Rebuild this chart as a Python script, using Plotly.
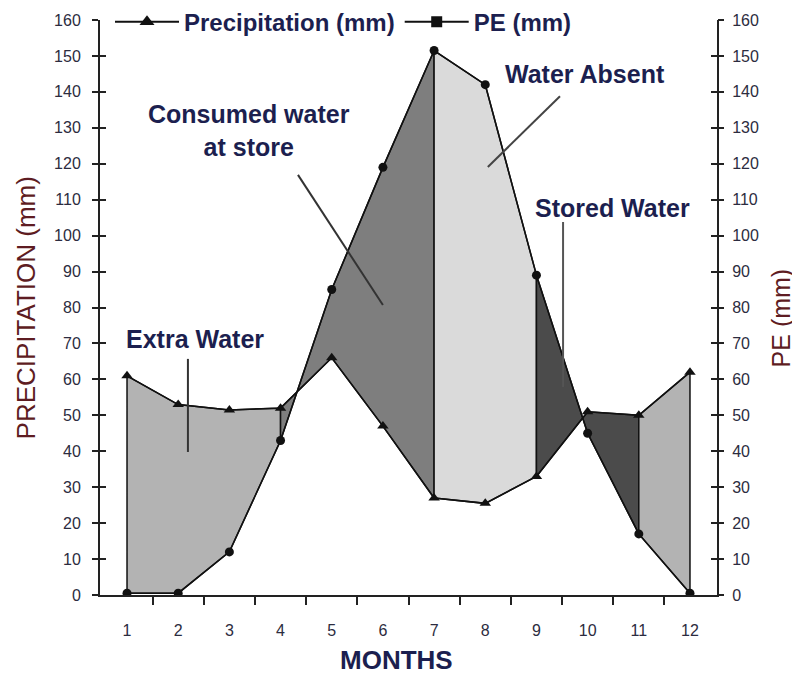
import plotly.graph_objects as go

months = [1, 2, 3, 4, 5, 6, 7, 8, 9, 10, 11, 12]
precip = [61, 53, 51.5, 52, 66, 47, 27, 25.5, 33, 51, 50, 62]
pe = [0.5, 0.5, 12, 43, 85, 119, 151.5, 142, 89, 45, 17, 0.5]
tick_labels = [str(m) for m in months]

# shaded segments: (start month, end month, fill colour)
segments = [(1, 4, "#b3b3b3"), (4, 7, "#7e7e7e"), (7, 9, "#dadada"),
            (9, 11, "#4b4b4b"), (11, 12, "#b3b3b3")]

TXT = "#1c1f4f"
TITLE_RED = "#5e1c22"
TICK = "#2c2c40"
FONT = "Liberation Sans, Arial, sans-serif"

fig = go.Figure()

for a, b, col in segments:
    i0, i1 = months.index(a), months.index(b)
    xs = months[i0:i1 + 1] + months[i0:i1 + 1][::-1]
    ys = precip[i0:i1 + 1] + pe[i0:i1 + 1][::-1]
    fig.add_trace(go.Scatter(x=xs + [xs[0]], y=ys + [ys[0]], fill="toself",
                             fillcolor=col, mode="lines",
                             line=dict(color="#111111", width=1.5),
                             showlegend=False, hoverinfo="skip"))

fig.add_trace(go.Scatter(x=months, y=precip, mode="lines+markers",
                         line=dict(color="#111111", width=1.5),
                         marker=dict(symbol="triangle-up", size=10, color="#111111"),
                         showlegend=False))
fig.add_trace(go.Scatter(x=months, y=pe, mode="lines+markers",
                         line=dict(color="#111111", width=1.5),
                         marker=dict(symbol="circle", size=9, color="#111111"),
                         showlegend=False))

# legend entries
fig.add_trace(go.Scatter(x=[None], y=[None], mode="lines+markers",
                         name="<b>Precipitation (mm)</b>",
                         line=dict(color="#111111", width=2),
                         marker=dict(symbol="triangle-up", size=13, color="#111111")))
fig.add_trace(go.Scatter(x=[None], y=[None], mode="lines+markers",
                         name="<b>PE (mm)</b>",
                         line=dict(color="#111111", width=2),
                         marker=dict(symbol="square", size=11, color="#111111")))

# helper traces so overlay axes are drawn
for ax in ["y2", "y3", "y4"]:
    fig.add_trace(go.Scatter(x=[None], y=[None], yaxis=ax, showlegend=False))

yticks = list(range(0, 161, 10))

common_y = dict(range=[0, 160], tickmode="array", tickvals=yticks,
                showgrid=False, zeroline=False, tickwidth=2, tickcolor="#222222",
                ticklen=6)

fig.update_layout(
    width=800, height=675,
    margin=dict(l=92, r=91, t=12, b=88, autoexpand=False),
    plot_bgcolor="white", paper_bgcolor="white",
    font=dict(family=FONT, color=TXT),
    xaxis=dict(range=[0.472, 12.528], tickmode="array", tickvals=months,
               ticktext=tick_labels, ticks="", showgrid=False, zeroline=False,
               showline=True, linecolor="#222222", linewidth=2,
               ticklabelstandoff=20,
               tickfont=dict(size=16, color=TICK),
               minor=dict(tickmode="array", tickvals=[m + 0.5 for m in months[:-1]],
                          ticks="outside", ticklen=8, tickwidth=2, tickcolor="#222222",
                          showgrid=False)),
    yaxis=dict(**common_y, ticks="outside", showline=True,
               linecolor="#222222", linewidth=2, ticklabelstandoff=8,
               tickfont=dict(size=16, color=TICK)),
    yaxis3=dict(**common_y, ticks="inside", overlaying="y", side="left",
                anchor="x", showline=False, showticklabels=False),
    yaxis2=dict(**common_y, overlaying="y", side="right", anchor="x",
                ticks="inside", showline=True, linecolor="#222222", linewidth=2,
                ticklabelstandoff=10, tickfont=dict(size=16, color=TICK)),
    yaxis4=dict(**common_y, ticks="outside", overlaying="y", side="right",
                anchor="x", showline=False, showticklabels=False),
    legend=dict(orientation="h", xref="container", yref="container",
                x=0.1275, y=0.979, xanchor="left", yanchor="middle",
                bgcolor="rgba(255,255,255,0)", itemwidth=64,
                font=dict(size=24, color=TXT, family=FONT), traceorder="normal"),
    showlegend=True,
)

def ann(text, x, y, size=25, bold=True, color=TXT, **kw):
    t = f"<b>{text}</b>" if bold else text
    fig.add_annotation(text=t, x=x, y=y, showarrow=False,
                       xanchor="center", yanchor="middle",
                       font=dict(size=size, color=color, family=FONT), **kw)

ann("Extra Water", 2.33, 71.2)
ann("Consumed water<br>at store", 3.38, 129.2)
ann("Water Absent", 9.95, 145)
ann("Stored Water", 10.48, 107.7)

ann("MONTHS", 0.481, -0.113, size=26, xref="paper", yref="paper")
ann("PRECIPITATION (mm)", -0.12, 0.50, size=26, bold=False, color=TITLE_RED,
    xref="paper", yref="paper", textangle=-90)
ann("PE (mm)", 1.103, 0.482, size=25, bold=False, color=TITLE_RED,
    xref="paper", yref="paper", textangle=-90)

# pointer lines
for x0, y0, x1, y1, c in [(2.19, 65.7, 2.19, 39.8, "#333333"),
                          (4.34, 116.9, 6.0, 80.7, "#333333"),
                          (9.46, 138.8, 8.05, 119.1, "#444444"),
                          (9.52, 103.8, 9.52, 57.9, "#555555")]:
    fig.add_shape(type="line", x0=x0, y0=y0, x1=x1, y1=y1, xref="x", yref="y",
                  line=dict(color=c, width=2))

fig.write_html("out.html")
